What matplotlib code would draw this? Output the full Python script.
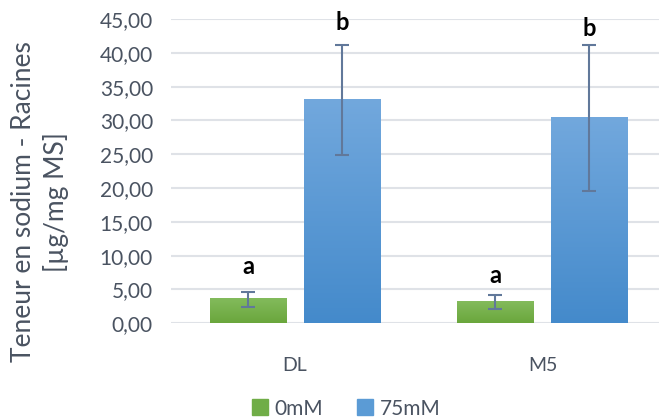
import numpy as np
import matplotlib
matplotlib.use('Agg')
import matplotlib.pyplot as plt
from matplotlib.colors import LinearSegmentedColormap
from matplotlib.patches import Patch

# Données
categories = ['DL', 'M5']
series = ['0mM', '75mM']
moy_0mM = [3.55, 3.15]
moy_75mM = [33.0, 30.4]
err_0mM = [1.08, 1.02]
err_75mM = [8.1, 10.8]
lettres_0mM = ['a', 'a']
lettres_75mM = ['b', 'b']
y_lettres_0mM = [8.4, 7.0]
y_lettres_75mM = [44.5, 43.6]

plt.rcParams['font.family'] = ['Lato', 'DejaVu Sans']
texte = '#4a5361'

fig = plt.figure(figsize=(6.59, 4.19), dpi=100)
ax = fig.add_axes([0.2595, 0.2284, 0.7405, 0.7263])

x = np.arange(len(categories))
largeur = 0.31
decal = 0.19

degrades = {
    '0mM': LinearSegmentedColormap.from_list('v', ['#6aa63c', '#83bb5c']),
    '75mM': LinearSegmentedColormap.from_list('b', ['#448acb', '#72a8dd']),
}
couleurs = {'0mM': '#70ad47', '75mM': '#5b9bd5'}

ax.set_ylim(0, 45)
ax.set_xlim(-0.501, 1.471)

grad = np.linspace(0, 1, 256).reshape(-1, 1)
for nom, moy, err, lettres, ylet, d in [
        ('0mM', moy_0mM, err_0mM, lettres_0mM, y_lettres_0mM, -decal),
        ('75mM', moy_75mM, err_75mM, lettres_75mM, y_lettres_75mM, decal)]:
    barres = ax.bar(x + d, moy, largeur, color='none', zorder=2)
    for b in barres:
        x0, h = b.get_x(), b.get_height()
        ax.imshow(grad, cmap=degrades[nom], origin='lower', aspect='auto',
                  extent=[x0, x0 + largeur, 0, h], zorder=2)
    ax.errorbar(x + d, moy, yerr=err, fmt='none', ecolor='#61789a',
                elinewidth=1.5, capsize=5, capthick=1.5, zorder=3)
    for xi, l, yl in zip(x + d, lettres, ylet):
        ax.text(xi, yl, l, ha='center', va='center', fontsize=17,
                fontweight='bold', color='black')

ax.set_xlim(-0.501, 1.471)
ax.set_ylim(0, 45)
ax.set_yticks(np.arange(0, 46, 5))
ax.set_yticklabels([f'{v:.2f}'.replace('.', ',') for v in np.arange(0, 46, 5)],
                   fontsize=15, color=texte)
ax.set_xticks(x)
ax.set_xticklabels(categories, fontsize=14, color=texte)
ax.tick_params(axis='both', length=0)
ax.tick_params(axis='x', pad=24)
ax.tick_params(axis='y', pad=13)
ax.grid(axis='y', color='#dfe2e7', linewidth=1.5, zorder=0)
ax.set_axisbelow(True)
for s in ax.spines.values():
    s.set_visible(False)

fig.text(0.061, 0.518, 'Teneur en sodium - Racines\n[µg/mg MS]', rotation=90,
         ha='center', va='center', fontsize=19, color=texte, linespacing=1.35)

poignees = [Patch(color=couleurs[s]) for s in series]
fig.legend(poignees, series, loc='center', bbox_to_anchor=(0.525, 0.025),
           ncol=2, frameon=False, fontsize=15, handlelength=0.8,
           handleheight=0.8, handletextpad=0.3, columnspacing=1.6,
           labelcolor=texte)

fig.savefig('out.png', dpi=100)
